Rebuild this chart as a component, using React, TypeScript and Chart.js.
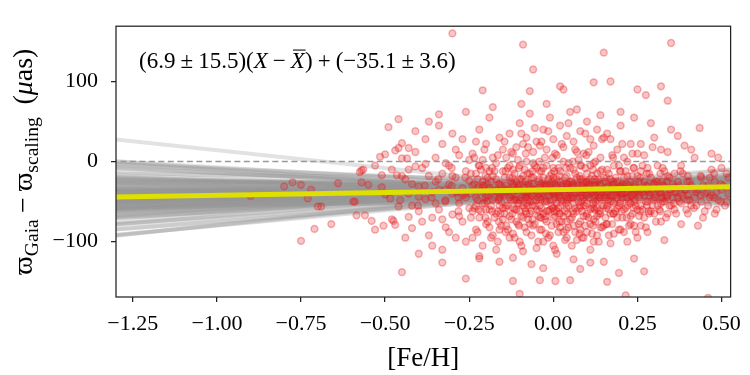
import { useEffect, useRef } from 'react';
import { Chart, registerables } from 'chart.js';

Chart.register(...registerables);

// ---------- data ----------
const xTicks = [-1.25, -1.0, -0.75, -0.5, -0.25, 0, 0.25, 0.5];
const yTicks = [-100, 0, 100];

const fitSlope = 6.9;
const slopeErr = 15.5;
const fitIntercept = -35.1;
const interceptErr = 3.6;

// [Fe/H], parallax difference (muas)
const metalPoorStars: [number, number][] = [
  [-0.9, -43], [-0.8, -31], [-0.775, -26], [-0.75, -29], [-0.72, -35], [-0.73, -46],
  [-0.64, -27], [-0.7, -56], [-0.69, -56], [-0.57, -26], [-0.55, -29], [-0.59, -50],
  [-0.585, -67], [-0.56, -67], [-0.54, -74], [-0.53, -85], [-0.66, -78], [-0.71, -84],
  [-0.75, -99], [-0.505, -80], [-0.48, -72], [-0.47, -79], [-0.475, -74], [-0.42, -83],
  [-0.43, -69], [-0.46, -56], [-0.485, -46], [-0.51, -32], [-0.5, -41], [-0.455, -48],
  [-0.595, -50], [-0.45, 23], [-0.46, 17], [-0.47, 14], [-0.43, 17], [-0.515, 6],
  [-0.5, 9], [-0.45, 4], [-0.435, 4], [-0.53, -5], [-0.575, -13], [-0.565, -10],
  [-0.48, -10], [-0.51, -17], [-0.41, -6], [-0.465, -17], [-0.45, -18], [-0.49, 43],
  [-0.46, 53], [-0.57, -11],
];

const highOutliers: [number, number][] = [
  [-0.3, 160], [-0.09, 146], [0.15, 136], [0.35, 148], [-0.06, 115], [-0.21, 89],
  [-0.07, 88], [0.12, 99], [0.17, 100], [0.02, 94], [0.03, 90], [0.25, 90],
  [0.32, 94], [0.275, 83], [0.34, 76], [-0.095, 72], [-0.34, 59], [0.435, 42],
];

const lowOutliers: [number, number][] = [
  [-0.45, -138], [-0.26, -146], [-0.1, -165], [0.006, -149], [0.215, -167], [0.46, -170],
  [0.27, -137], [0.195, -139], [0.16, -150], [-0.4, -115], [-0.33, -126], [-0.22, -121],
  [-0.16, -125], [-0.065, -128], [-0.03, -133], [-0.12, -149], [-0.04, -148], [0.05, -148],
  [0.08, -134], [0.15, -125], [0.24, -121], [0.11, -126], [0.06, -122],
];

const subSolarStars: [number, number][] = [
  [-0.44, -22], [-0.43, -40], [-0.42, -55], [-0.41, 12], [-0.4, -31], [-0.4, -62], [-0.39, -8],
  [-0.38, -47], [-0.38, 28], [-0.37, -92], [-0.37, -18], [-0.36, -38], [-0.36, -70], [-0.35, 5],
  [-0.35, -52], [-0.44, -95], [-0.42, -28], [-0.39, -75], [-0.41, 38], [-0.38, -3], [-0.36, -105],
  [-0.43, -10], [-0.4, -44], [-0.37, 50], [-0.35, -25],
  [-0.34, -35], [-0.34, -60], [-0.33, -15], [-0.33, 22], [-0.32, -48], [-0.32, -82], [-0.31, -5],
  [-0.31, -28], [-0.3, -40], [-0.3, -66], [-0.3, 35], [-0.29, -20], [-0.29, -95], [-0.28, -52],
  [-0.28, 8], [-0.27, -33], [-0.27, -75], [-0.26, -12], [-0.26, -45], [-0.26, 62], [-0.25, -58],
  [-0.25, -24], [-0.34, 45], [-0.33, -110], [-0.32, -2], [-0.31, -88], [-0.3, -18], [-0.29, 15],
  [-0.28, -68], [-0.27, -42], [-0.26, -100], [-0.25, 2], [-0.33, -72], [-0.29, -38], [-0.27, 28],
  [-0.24, -30], [-0.24, -62], [-0.24, 10], [-0.23, -45], [-0.23, -85], [-0.23, -15], [-0.22, -38],
  [-0.22, 40], [-0.22, -70], [-0.21, -25], [-0.21, -52], [-0.21, -105], [-0.2, -8], [-0.2, -42],
  [-0.2, -78], [-0.2, 22], [-0.19, -33], [-0.19, -60], [-0.19, 55], [-0.18, -18], [-0.18, -48],
  [-0.18, -92], [-0.18, 5], [-0.17, -36], [-0.17, -65], [-0.17, -2], [-0.16, -28], [-0.16, -55],
  [-0.16, -85], [-0.16, 30], [-0.15, -40], [-0.15, -12], [-0.15, -72], [-0.24, -95], [-0.23, 25],
  [-0.22, -5], [-0.21, -30], [-0.2, -60], [-0.19, -12], [-0.18, 68], [-0.17, -110], [-0.16, -45],
  [-0.15, 15], [-0.23, -55], [-0.21, 2], [-0.19, -82], [-0.17, -22], [-0.15, -58], [-0.22, -118],
  [-0.18, -35],
  [-0.14, -30], [-0.14, -55], [-0.14, -80], [-0.14, 5], [-0.13, -20], [-0.13, -45], [-0.13, -68],
  [-0.13, 35], [-0.12, -38], [-0.12, -10], [-0.12, -90], [-0.12, -58], [-0.11, -25], [-0.11, -48],
  [-0.11, 18], [-0.11, -75], [-0.1, -35], [-0.1, -5], [-0.1, -62], [-0.1, 48], [-0.1, -100],
  [-0.09, -42], [-0.09, -18], [-0.09, -70], [-0.09, 22], [-0.08, -30], [-0.08, -52], [-0.08, -88],
  [-0.08, 0], [-0.07, -40], [-0.07, -15], [-0.07, -65], [-0.07, 60], [-0.06, -28], [-0.06, -50],
  [-0.06, -80], [-0.06, 12], [-0.05, -36], [-0.05, -8], [-0.05, -60], [-0.05, -108], [-0.14, -38],
  [-0.13, -95], [-0.12, -28], [-0.12, 10], [-0.11, -60], [-0.1, -22], [-0.1, -48], [-0.09, -55],
  [-0.09, -112], [-0.08, -42], [-0.08, 30], [-0.07, -30], [-0.07, -78], [-0.06, -40], [-0.06, -2],
  [-0.05, -48], [-0.05, 25], [-0.13, -5], [-0.11, -35], [-0.09, -32], [-0.08, -65], [-0.07, -50],
  [-0.06, -20], [-0.12, -120],
];

const solarStars: [number, number][] = [
  [-0.04, -32], [-0.04, -55], [-0.04, -12], [-0.04, -85], [-0.04, 20], [-0.03, -40], [-0.03, -65],
  [-0.03, -20], [-0.03, 40], [-0.03, -100], [-0.02, -28], [-0.02, -50], [-0.02, -5], [-0.02, -75],
  [-0.02, 15], [-0.01, -38], [-0.01, -60], [-0.01, -18], [-0.01, -92], [-0.01, 55], [0.0, -30],
  [0.0, -48], [0.0, -70], [0.0, -8], [0.0, 28], [0.01, -42], [0.01, -22], [0.01, -62], [0.01, -115],
  [0.01, 8], [0.02, -35], [0.02, -55], [0.02, -82], [0.02, -12], [0.02, 45], [0.03, -28], [0.03, -48],
  [0.03, -68], [0.03, 0], [0.04, -38], [0.04, -58], [0.04, -18], [0.04, -95], [0.04, 32], [0.05, -45],
  [0.05, -25], [0.05, -72], [-0.04, -45], [-0.03, -30], [-0.02, -62], [-0.01, -48], [0.0, -38],
  [0.0, -58], [0.01, -32], [0.02, -25], [0.02, -45], [0.03, -38], [0.03, -88], [0.04, -48],
  [0.05, -35], [0.05, -8], [-0.04, -70], [-0.02, -38], [0.0, -20], [0.01, -52], [0.03, 18],
  [0.04, -75], [-0.03, -8], [-0.01, -28], [0.02, -65], [0.0, -105], [0.05, 62], [-0.02, 72],
  [0.01, -78], [0.04, -28],
  [0.06, -30], [0.06, -52], [0.06, -10], [0.06, -80], [0.06, 25], [0.07, -40], [0.07, -62],
  [0.07, -20], [0.07, -98], [0.08, -35], [0.08, -55], [0.08, -5], [0.08, -75], [0.08, 38],
  [0.09, -45], [0.09, -25], [0.09, -68], [0.09, 10], [0.1, -32], [0.1, -52], [0.1, -15], [0.1, -88],
  [0.1, 50], [0.11, -40], [0.11, -60], [0.11, -22], [0.11, -110], [0.12, -30], [0.12, -48],
  [0.12, -2], [0.12, -72], [0.12, 20], [0.13, -38], [0.13, -58], [0.13, -15], [0.13, -92],
  [0.14, -28], [0.14, -45], [0.14, -65], [0.14, 5], [0.15, -35], [0.15, -55], [0.15, -80],
  [0.15, 30], [0.06, -42], [0.07, -30], [0.08, -45], [0.09, -35], [0.09, -55], [0.1, -42],
  [0.1, -65], [0.11, -30], [0.11, -5], [0.12, -38], [0.12, -58], [0.13, -25], [0.13, -48],
  [0.14, -38], [0.14, -82], [0.15, -20], [0.07, 12], [0.08, -85], [0.1, -25], [0.11, -78],
  [0.13, 40], [0.14, -12], [0.06, -65], [0.09, -95], [0.12, -100], [0.15, -45], [0.07, 65],
  [0.11, 28], [0.14, 58], [0.08, -22], [0.13, -68],
];

const superSolarStars: [number, number][] = [
  [0.16, -32], [0.16, -55], [0.16, -10], [0.16, -78], [0.17, -42], [0.17, -22], [0.17, -65],
  [0.17, 28], [0.18, -35], [0.18, -52], [0.18, -5], [0.18, -90], [0.19, -45], [0.19, -25],
  [0.19, -70], [0.19, 15], [0.2, -30], [0.2, -50], [0.2, -12], [0.2, -85], [0.2, 45], [0.21, -40],
  [0.21, -60], [0.21, -20], [0.22, -35], [0.22, -55], [0.22, 0], [0.22, -100], [0.23, -42],
  [0.23, -25], [0.23, -68], [0.23, 22], [0.24, -32], [0.24, -50], [0.24, -8], [0.24, -80],
  [0.25, -38], [0.25, -60], [0.25, -18], [0.16, -42], [0.17, -50], [0.18, -28], [0.19, -38],
  [0.2, -40], [0.21, -30], [0.21, -88], [0.22, -45], [0.23, -52], [0.24, -40], [0.25, 10],
  [0.17, -102], [0.19, -58], [0.2, 62], [0.22, -18], [0.23, -78], [0.16, 35], [0.18, -65],
  [0.24, 55], [0.21, 5], [0.25, -95],
  [0.26, -35], [0.26, -55], [0.26, -12], [0.27, -42], [0.27, -70], [0.27, 8], [0.28, -30],
  [0.28, -50], [0.28, -88], [0.29, -38], [0.29, -20], [0.29, -62], [0.3, -45], [0.3, -28],
  [0.3, 30], [0.31, -35], [0.31, -55], [0.31, -5], [0.32, -40], [0.32, -75], [0.32, 15],
  [0.33, -30], [0.33, -50], [0.33, -98], [0.34, -42], [0.34, -18], [0.34, -65], [0.35, -35],
  [0.35, -55], [0.35, 40], [0.26, -80], [0.28, -8], [0.3, -65], [0.31, -25], [0.33, -12],
  [0.27, -25], [0.29, 48], [0.32, -52], [0.34, 12], [0.26, 22],
  [0.36, -38], [0.36, -60], [0.36, -15], [0.37, -45], [0.37, -25], [0.38, -52], [0.38, -5],
  [0.38, -78], [0.39, -35], [0.39, 20], [0.4, -42], [0.4, -65], [0.4, -18], [0.41, -30],
  [0.41, -55], [0.42, -45], [0.42, 5], [0.43, -35], [0.43, -80], [0.44, -50], [0.44, -20],
  [0.45, -40], [0.45, -62], [0.37, 32], [0.41, 15],
  [0.46, -30], [0.46, -55], [0.47, -10], [0.47, -42], [0.48, -65], [0.48, -25], [0.49, -48],
  [0.5, -35], [0.5, -8], [0.51, -55], [0.52, -40], [0.52, -20], [0.49, 5], [0.47, 10],
];

const coreStars: [number, number][] = [
  [-0.245, -40], [-0.245, -70], [-0.245, -15], [-0.235, -28], [-0.235, -58], [-0.235, 5],
  [-0.225, -48], [-0.225, -22], [-0.225, -88], [-0.215, -35], [-0.215, -62], [-0.215, -10],
  [-0.205, -52], [-0.205, -30], [-0.205, 15], [-0.195, -42], [-0.195, -75], [-0.195, -20],
  [-0.185, -25], [-0.185, -55], [-0.185, -95], [-0.175, -45], [-0.175, -12], [-0.175, -70],
  [-0.165, -38], [-0.165, -62], [-0.165, 8], [-0.165, -100], [-0.155, -30], [-0.155, -50],
  [-0.155, -80], [-0.145, -42], [-0.145, -20], [-0.145, -65], [-0.145, 25], [-0.135, -35],
  [-0.135, -55], [-0.135, -85], [-0.135, -8], [-0.125, -48], [-0.125, -25], [-0.125, -72],
  [-0.125, 12], [-0.115, -40], [-0.115, -60], [-0.115, -15], [-0.115, -95], [-0.105, -32],
  [-0.105, -52], [-0.105, -78], [-0.105, 2], [-0.095, -45], [-0.095, -22], [-0.095, -68],
  [-0.095, -105], [-0.095, 35], [-0.085, -38], [-0.085, -58], [-0.085, -10], [-0.085, -82],
  [-0.075, -28], [-0.075, -48], [-0.075, -72], [-0.075, 18], [-0.065, -42], [-0.065, -62],
  [-0.065, -20], [-0.065, -92], [-0.055, -35], [-0.055, -55], [-0.055, -5], [-0.055, -78],
  [-0.055, 42], [-0.045, -45], [-0.045, -25], [-0.045, -68], [-0.045, -100], [-0.035, -38],
  [-0.035, -58], [-0.035, -12], [-0.035, -85], [-0.035, 25], [-0.025, -30], [-0.025, -50],
  [-0.025, -72], [-0.025, 5], [-0.015, -42], [-0.015, -62], [-0.015, -22], [-0.015, -95],
  [-0.015, 38], [-0.005, -35], [-0.005, -55], [-0.005, -15], [-0.005, -80], [0.005, -45],
  [0.005, -28], [0.005, -68], [0.005, 10], [0.005, -110], [0.015, -38], [0.015, -58],
  [0.015, -8], [0.015, -88], [0.025, -30], [0.025, -50], [0.025, -75], [0.025, 22],
  [0.035, -42], [0.035, -62], [0.035, -20], [0.035, -98], [0.045, -35], [0.045, -55],
  [0.045, -2], [0.045, -82], [0.045, 48], [0.055, -45], [0.055, -25], [0.055, -70],
  [0.055, -105], [0.065, -38], [0.065, -58], [0.065, -15], [0.065, -88], [0.065, 15],
  [0.075, -30], [0.075, -50], [0.075, -78], [0.075, 2], [0.085, -42], [0.085, -62],
  [0.085, -22], [0.085, -95], [0.095, -35], [0.095, -55], [0.095, -8], [0.095, -80],
  [0.095, 35], [0.105, -45], [0.105, -28], [0.105, -70], [0.105, 12], [0.115, -38],
  [0.115, -58], [0.115, -18], [0.115, -90], [0.125, -30], [0.125, -50], [0.125, -75],
  [0.125, 0], [0.135, -42], [0.135, -65], [0.135, -22], [0.135, -100], [0.145, -35],
  [0.145, -55], [0.145, -10], [0.145, -82], [0.145, 28], [0.155, -45], [0.155, -25],
  [0.155, -70], [0.165, -38], [0.165, -60], [0.165, -15], [0.165, -92], [0.175, -30],
  [0.175, -50], [0.175, -78], [0.175, 8], [0.185, -42], [0.185, -62], [0.185, -20],
  [0.195, -35], [0.195, -55], [0.195, -5], [0.195, -85], [0.205, -45], [0.205, -28],
  [0.205, -70], [0.205, 22], [0.215, -38], [0.215, -58], [0.215, -12], [0.225, -30],
  [0.225, -50], [0.225, -80], [0.235, -42], [0.235, -65], [0.235, -18], [0.235, 10],
  [0.245, -35], [0.245, -55], [0.245, -88], [0.255, -45], [0.255, -25], [0.255, -68],
  [0.265, -38], [0.265, -60], [0.265, -5], [0.275, -30], [0.275, -50], [0.275, -82],
  [0.285, -42], [0.285, -65], [0.285, -15], [0.295, -35], [0.295, -55], [0.295, 18],
  [0.305, -45], [0.305, -25], [0.305, -75], [0.315, -38], [0.315, -60], [0.325, -30],
  [0.325, -50], [0.325, -8], [0.335, -42], [0.335, -70], [0.345, -35], [0.345, -55],
  [0.345, -20], [0.355, -45], [0.355, -28], [0.365, -38], [0.365, -65], [0.375, -30],
  [0.375, -50], [0.385, -42], [0.385, -15], [0.395, -35], [0.395, -60], [0.405, -48],
  [0.405, -25], [0.425, -38], [0.425, -55], [0.445, -30], [0.445, -70], [0.465, -45],
  [0.465, -20], [0.485, -38], [0.485, -60], [0.505, -30], [0.515, -50], [0.515, -15],
];

const denseCoreStars: [number, number][] = [
  [-0.222, -32], [-0.222, -60], [-0.222, -5], [-0.202, -45], [-0.202, -18], [-0.202, -70],
  [-0.182, -38], [-0.182, -62], [-0.182, -8], [-0.162, -48], [-0.162, -28], [-0.162, -75],
  [-0.142, -35], [-0.142, -58], [-0.142, -12], [-0.142, -88], [-0.122, -42], [-0.122, -20],
  [-0.122, -65], [-0.102, -30], [-0.102, -52], [-0.102, -80], [-0.102, -8], [-0.082, -45],
  [-0.082, -25], [-0.082, -62], [-0.082, 10], [-0.062, -35], [-0.062, -55], [-0.062, -12],
  [-0.062, -72], [-0.042, -40], [-0.042, -62], [-0.042, -22], [-0.042, 0], [-0.022, -48],
  [-0.022, -30], [-0.022, -68], [-0.022, -90], [-0.002, -38], [-0.002, -58], [-0.002, -25],
  [-0.002, 5], [0.018, -42], [0.018, -65], [0.018, -18], [0.018, -75], [0.038, -32],
  [0.038, -52], [0.038, -8], [0.038, -85], [0.058, -45], [0.058, -28], [0.058, -62],
  [0.058, 0], [0.078, -38], [0.078, -58], [0.078, -18], [0.078, -90], [0.098, -42],
  [0.098, -25], [0.098, -68], [0.098, 8], [0.118, -35], [0.118, -52], [0.118, -10],
  [0.118, -80], [0.138, -45], [0.138, -30], [0.138, -62], [0.158, -38], [0.158, -58],
  [0.158, -20], [0.158, -78], [0.178, -42], [0.178, -25], [0.178, -65], [0.178, 5],
  [0.198, -32], [0.198, -52], [0.198, -12], [0.218, -45], [0.218, -28], [0.218, -70],
  [0.238, -38], [0.238, -58], [0.238, -8], [0.258, -42], [0.258, -20], [0.258, -62],
  [0.278, -35], [0.278, -55], [0.278, -15], [0.298, -48], [0.298, -28], [0.318, -38],
  [0.318, -15], [0.318, -62], [0.338, -45], [0.338, -25], [0.358, -32], [0.358, -52],
  [0.378, -40], [0.378, -12], [0.398, -48], [0.398, -25], [0.418, -35], [0.418, -58],
  [0.438, -42], [0.438, -18], [0.458, -38], [0.478, -45], [0.478, -15], [0.498, -50],
  [0.498, -28], [-0.262, -40], [-0.262, -20], [-0.282, -45], [-0.282, -62], [-0.302, -30],
  [-0.302, -8], [-0.322, -50], [-0.322, -35], [-0.342, -22], [-0.362, -45], [-0.382, -30],
  [-0.402, -55],
  [-0.197, -28], [-0.197, -50], [-0.157, -40], [-0.157, -65], [-0.117, -30], [-0.117, -48],
  [-0.077, -38], [-0.077, -55], [-0.077, -15], [-0.037, -28], [-0.037, -48], [-0.037, -70],
  [0.003, -40], [0.003, -62], [0.003, -12], [0.043, -45], [0.043, -28], [0.043, -65],
  [0.083, -32], [0.083, -50], [0.083, -5], [0.123, -42], [0.123, -60], [0.123, -22],
  [0.163, -30], [0.163, -48], [0.203, -40], [0.203, -62], [0.243, -28], [0.243, -48],
  [0.283, -38], [0.283, -62], [0.323, -25], [0.323, -45],
];

// posterior samples of the linear fit
const sampleSlopes = [
  6.9, -8.2, 21.5, 2.1, 14.8, -15.3, 9.6, 28.4, -2.7, 17.9, 0.4, 11.2, -21.6, 5.3, 24.1, -5.9,
  13.7, 36.2, -11.4, 8.1, 19.3, -0.8, 3.9, 31.5, -18.7, 10.5, 15.9, -4.2, 26.8, 7.4, -25.1, 12.6,
  1.5, 22.7, -9.8, 16.4, 4.6, -13.2, 34.0, 9.0, -1.9, 18.6, -30.2, 6.2, 25.3, -6.5, 11.9, 41.3,
  -16.8, 3.2, 20.4, -3.4, 14.1, 29.6, -10.7, 7.8, 2.8, -22.9, 17.2, 10.1, -7.3, 23.5, 0.9, 13.0,
  -27.4, 5.7, 32.8, -12.1, 8.7, 19.8, -4.9, 15.2, -44.5, 4.3, 27.9, -1.2, 12.3, 45.0, -19.5, 9.3,
  3.5, 10.8, -3.1, 15.6, 7.9, 0.2, 12.4, -6.8, 19.1, 5.0, 9.9, -1.5, 14.3, 2.6, 8.4, -9.2,
  17.5, 6.5, 11.6, -4.4, 4.1, 13.9, -0.3, 21.0, 7.1, 1.8, 16.7, -7.9, 10.2, 5.6, 24.5, -12.8,
  8.9, 3.0, 12.9, -2.2, 18.2, 6.0, -17.5, 38.0,
];
const sampleIntercepts = [
  -35.1, -38.4, -31.2, -42.6, -29.8, -36.9, -33.5, -40.7, -27.4, -37.8, -44.9, -32.6, -35.9,
  -30.1, -39.3, -46.2, -34.2, -28.6, -41.5, -36.3, -31.8, -38.9, -25.9, -43.7, -33.0, -37.1,
  -29.3, -40.2, -35.6, -48.3, -32.2, -36.7, -23.8, -39.8, -34.7, -30.7, -42.1, -37.5, -33.9,
  -45.5, -28.1, -35.3, -39.0, -31.5, -36.0, -41.1, -26.8, -38.1, -34.4, -50.1, -32.9, -37.3,
  -29.0, -40.9, -35.8, -43.2, -30.4, -36.5, -33.2, -24.9, -38.6, -31.0, -47.0, -34.9, -37.9,
  -28.9, -41.8, -35.4, -32.3, -39.6, -21.5, -36.2, -30.3, -33.7, -30.9, -37.6, -42.9, -34.0,
  -27.7, -39.1,
  -36.4, -33.8, -38.2, -34.9, -31.9, -37.2, -35.7, -33.1, -39.4, -34.5, -36.8, -32.7, -38.0,
  -35.0, -30.6, -37.7, -34.1, -36.1, -32.4, -39.9, -35.5, -33.3, -37.0, -31.4, -36.6, -34.3,
  -38.5, -32.0, -35.2, -40.3, -33.6, -36.3, -29.6, -37.4, -34.8, -31.1, -38.8, -35.9, -27.0,
  -42.0,
];

const lineXs = [-1.4, 0.6];

// ---------- helpers ----------
const SERIF = "'Liberation Serif', 'DejaVu Serif', serif";
const minus = (v: number, d: number) => (v < 0 ? '\u2212' + Math.abs(v).toFixed(d) : v.toFixed(d));

type Run = { t: string; it?: boolean; sub?: boolean; pad?: boolean; over?: boolean; gap?: number };

function runWidth(ctx: CanvasRenderingContext2D, r: Run, fs: number) {
  const s = r.sub ? fs * 0.7 : fs;
  ctx.font = `${r.it ? 'italic ' : ''}${s}px ${SERIF}`;
  let w = ctx.measureText(r.t).width;
  if (r.pad) w += fs * 0.44;
  if (r.gap) w += fs * r.gap;
  return w;
}

function drawRuns(ctx: CanvasRenderingContext2D, runs: Run[], x0: number, y0: number, fs: number) {
  let x = x0;
  for (const r of runs) {
    const s = r.sub ? fs * 0.7 : fs;
    ctx.font = `${r.it ? 'italic ' : ''}${s}px ${SERIF}`;
    if (r.gap) x += fs * r.gap;
    if (r.pad) x += fs * 0.22;
    const w = ctx.measureText(r.t).width;
    const y = r.sub ? y0 + fs * 0.22 : y0;
    ctx.fillText(r.t, x, y);
    if (r.over) {
      ctx.beginPath();
      ctx.lineWidth = fs * 0.045;
      ctx.moveTo(x + w * 0.15, y - fs * 0.78);
      ctx.lineTo(x + w * 1.05, y - fs * 0.78);
      ctx.stroke();
    }
    x += w;
    if (r.pad) x += fs * 0.22;
  }
  return x - x0;
}

const overlay = {
  id: 'overlay',
  afterDatasetsDraw(chart: any) {
    const { ctx, chartArea: a } = chart;
    ctx.save();
    ctx.strokeStyle = '#222';
    ctx.lineWidth = 1.25;
    ctx.strokeRect(a.left, a.top, a.right - a.left, a.bottom - a.top);

    ctx.fillStyle = '#000';
    ctx.strokeStyle = '#000';
    ctx.textBaseline = 'alphabetic';
    ctx.textAlign = 'left';

    // fit annotation
    const ann: Run[] = [
      { t: `(${fitSlope.toFixed(1)}` }, { t: '±', pad: true }, { t: `${slopeErr.toFixed(1)})(` },
      { t: 'X', it: true }, { t: '\u2212', pad: true }, { t: 'X', it: true, over: true }, { t: ')' },
      { t: '+', pad: true }, { t: `(${minus(fitIntercept, 1)}` }, { t: '±', pad: true },
      { t: `${interceptErr.toFixed(1)})` },
    ];
    drawRuns(ctx, ann, 139, 68, 23);

    // x title
    ctx.font = `27px ${SERIF}`;
    ctx.textAlign = 'center';
    ctx.fillText('[Fe/H]', (a.left + a.right) / 2, 366);
    ctx.textAlign = 'left';

    // y title
    const fsY = 28;
    const yl: Run[] = [
      { t: '\u03D6' }, { t: 'Gaia', sub: true }, { t: '\u2212', pad: true }, { t: '\u03D6' },
      { t: 'scaling', sub: true }, { t: '(', gap: 0.45 }, { t: '\u03BC', it: true }, { t: 'as)' },
    ];
    let total = 0;
    for (const r of yl) total += runWidth(ctx, r, fsY);
    ctx.translate(32, (a.top + a.bottom) / 2);
    ctx.rotate(-Math.PI / 2);
    drawRuns(ctx, yl, -total / 2, 0, fsY);
    ctx.restore();
  },
};

export default function App() {
  const ref = useRef<HTMLCanvasElement>(null);
  useEffect(() => {
    if (!ref.current) return;
    const stars = [
      ...metalPoorStars, ...subSolarStars, ...solarStars, ...superSolarStars,
      ...coreStars, ...denseCoreStars, ...highOutliers, ...lowOutliers,
    ];
    const fehMean = 0;
    const n = Math.min(sampleSlopes.length, sampleIntercepts.length);
    const sampleSets: any[] = [];
    for (let i = 0; i < n; i++) {
      sampleSets.push({
        type: 'line',
        data: lineXs.map((x) => ({ x, y: sampleSlopes[i] * (x - fehMean) + sampleIntercepts[i] })),
        borderColor: 'rgba(150,150,150,0.28)',
        borderWidth: 4,
        pointRadius: 0,
        order: 3,
      });
    }
    const chart = new Chart(ref.current, {
      type: 'scatter',
      data: {
        datasets: [
          {
            type: 'line',
            data: lineXs.map((x) => ({ x, y: fitSlope * (x - fehMean) + fitIntercept })),
            borderColor: '#dfdf00',
            borderWidth: 5,
            pointRadius: 0,
            order: 0,
          },
          {
            type: 'line',
            data: lineXs.map((x) => ({ x, y: 0 })),
            borderColor: '#999999',
            borderWidth: 1.5,
            borderDash: [6, 3.5],
            pointRadius: 0,
            order: 1,
          },
          {
            type: 'scatter',
            data: stars.map(([x, y]) => ({ x, y })),
            backgroundColor: 'rgba(228,26,28,0.25)',
            borderColor: 'rgba(228,26,28,0.32)',
            borderWidth: 1.5,
            pointRadius: 3.4,
            order: 2,
          },
          ...sampleSets,
        ],
      } as any,
      options: {
        animation: false,
        responsive: false,
        devicePixelRatio: 1,
        layout: { padding: { top: 23, right: 15, left: 0, bottom: 0 } },
        plugins: { legend: { display: false }, tooltip: { enabled: false } },
        scales: {
          x: {
            type: 'linear',
            min: -1.3,
            max: 0.527,
            afterBuildTicks: (s: any) => { s.ticks = xTicks.map((v) => ({ value: v })); },
            afterFit: (s: any) => { s.height = 78; },
            ticks: {
              color: '#000',
              font: { family: SERIF, size: 22 },
              padding: 9,
              maxRotation: 0,
              autoSkip: false,
              callback: (v: any) => minus(Number(v), 2),
            },
            grid: { drawOnChartArea: false, drawTicks: true, tickLength: 5, color: '#222', lineWidth: 1.25 },
            border: { display: false },
          },
          y: {
            type: 'linear',
            min: -169,
            max: 169,
            afterBuildTicks: (s: any) => { s.ticks = yTicks.map((v) => ({ value: v })); },
            afterFit: (s: any) => { s.width = 116; },
            ticks: {
              color: '#000',
              font: { family: SERIF, size: 22 },
              padding: 13,
              autoSkip: false,
              callback: (v: any) => minus(Number(v), 0),
            },
            grid: { drawOnChartArea: false, drawTicks: true, tickLength: 5, color: '#222', lineWidth: 1.25 },
            border: { display: false },
          },
        },
      },
      plugins: [overlay],
    });
    return () => chart.destroy();
  }, []);
  return (
    <div style={{ position: 'fixed', left: 0, top: 0, width: 750, height: 375, background: '#fff' }}>
      <canvas ref={ref} width={750} height={375} />
    </div>
  );
}
